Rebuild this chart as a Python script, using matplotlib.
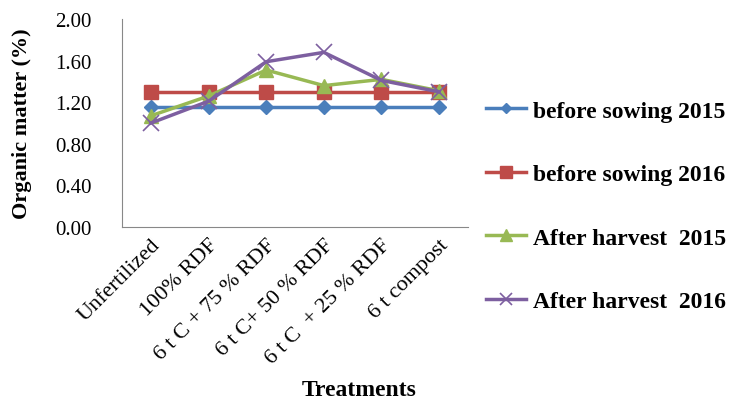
import matplotlib.pyplot as plt

plt.rcParams['font.family'] = ['Liberation Serif', 'DejaVu Serif']

# treatments on the x axis
treatments = ['Unfertilized', '100% RDF', '6 t C + 75 % RDF', '6 t C+ 50 % RDF',
              '6 t C  + 25 % RDF', '6 t compost']

# organic matter (%) for each sampling
before_2015 = [1.15, 1.15, 1.15, 1.15, 1.15, 1.15]
before_2016 = [1.30, 1.30, 1.30, 1.30, 1.30, 1.30]
after_2015 = [1.07, 1.26, 1.51, 1.36, 1.42, 1.31]
after_2016 = [1.00, 1.21, 1.59, 1.68, 1.41, 1.30]

fig = plt.figure(figsize=(7.45, 4.02), dpi=100)
ax = fig.add_axes([0.164, 0.433, 0.464, 0.517])

x = range(len(treatments))
ax.plot(x, before_2015, color='#4a7ebb', marker='D', markersize=7, lw=2.5,
        label='before sowing 2015')
ax.plot(x, before_2016, color='#be4b48', marker='s', markersize=10, lw=2.5,
        label='before sowing 2016')
ax.plot(x, after_2015, color='#98b954', marker='^', markersize=10, lw=2.5,
        label='After harvest  2015')
ax.plot(x, after_2016, color='#7d5fa0', marker='x', markersize=11, mew=1.2, lw=2.5,
        label='After harvest  2016')

ax.set_xlim(-0.5, 5.5)
ax.set_ylim(0, 2.0)
ax.set_yticks([0, 0.4, 0.8, 1.2, 1.6, 2.0])
ax.set_yticklabels(['0.00', '0.40', '0.80', '1.20', '1.60', '2.00'], fontsize=15)
ax.set_xticks(list(x))
ax.set_xticklabels(treatments, rotation=45, ha='right', rotation_mode='anchor',
                   fontsize=16)
ax.tick_params(axis='y', length=0, pad=22)
ax.tick_params(axis='x', length=0, pad=6)

for side in ['top', 'right']:
    ax.spines[side].set_visible(False)
for side in ['left', 'bottom']:
    ax.spines[side].set_color('#888888')

ax.set_ylabel('Organic matter (%)', fontsize=16, fontweight='bold')
ax.yaxis.set_label_coords(-0.26, 0.5)
ax.set_xlabel('Treatments', fontsize=17, fontweight='bold')
ax.xaxis.set_label_coords(0.685, -0.73)

ax.legend(loc='center left', bbox_to_anchor=(0.99, 0.1), frameon=False,
          prop={'size': 17, 'weight': 'bold'}, labelspacing=1.78,
          handlelength=1.7, handletextpad=0.3, markerscale=0.8)

plt.savefig('out.png', dpi=100)
